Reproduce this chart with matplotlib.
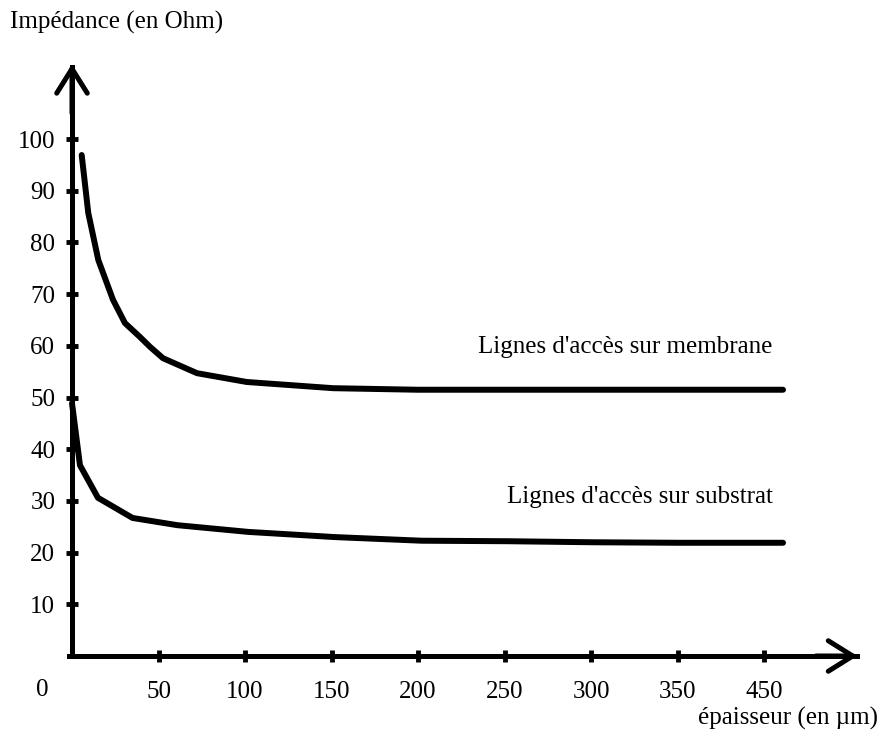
import matplotlib
matplotlib.use("Agg")
import matplotlib.pyplot as plt

plt.rcParams['font.family'] = ['Liberation Serif', 'DejaVu Serif']

# thickness (um) / impedance (Ohm)
x_membrane = [5.6, 9.4, 15.2, 23.7, 30.6, 39.3, 45.1, 52.6, 72.3, 101, 151, 200, 250, 300, 350, 411]
z_membrane = [96.9, 85.7, 76.6, 68.9, 64.4, 61.7, 59.8, 57.6, 54.7, 53.0, 51.8, 51.5, 51.5, 51.5, 51.5, 51.5]

x_substrat = [0, 4.6, 15, 35, 61, 102, 152, 202, 252, 301, 350, 411]
z_substrat = [48.9, 36.9, 30.6, 26.7, 25.3, 24.0, 23.0, 22.3, 22.2, 22.0, 21.9, 21.9]

xticks = [50, 100, 150, 200, 250, 300, 350, 400]
xtick_labels = ['50', '100', '150', '200', '250', '300', '350', '450']
yticks = [10, 20, 30, 40, 50, 60, 70, 80, 90, 100]

fig = plt.figure(figsize=(8.84, 7.44), dpi=100)
ax = fig.add_axes([0, 0, 1, 1])
# 1.73 px per um, 5.17 px per Ohm, origin at pixel (72, 656)
ax.set_xlim(-72 / 1.73, (884 - 72) / 1.73)
ax.set_ylim(-(744 - 656) / 5.17, 656 / 5.17)

ax.plot(x_membrane, z_membrane, color='black', lw=4.3, solid_capstyle='round')
ax.plot(x_substrat, z_substrat, color='black', lw=4.3, solid_capstyle='round')

# axes drawn as thick lines with open chevron heads
for s in ['top', 'right']:
    ax.spines[s].set_visible(False)
ax.spines['left'].set_position(('data', 0))
ax.spines['bottom'].set_position(('data', 0))
ax.spines['left'].set_bounds(0, 114.0)
ax.spines['bottom'].set_bounds(-2, 453.5)
ax.spines['left'].set_linewidth(3.6)
ax.spines['bottom'].set_linewidth(3.6)
head = '->,head_length=0.8,head_width=0.5'
ax.annotate('', xy=(0, 114.5), xytext=(0, 105),
            arrowprops=dict(arrowstyle=head, lw=3.6, color='black',
                            mutation_scale=22, shrinkA=0, shrinkB=0))
ax.annotate('', xy=(454, 0), xytext=(430, 0),
            arrowprops=dict(arrowstyle=head, lw=3.6, color='black',
                            mutation_scale=22, shrinkA=0, shrinkB=0))

ax.set_xticks(xticks)
ax.set_xticklabels(xtick_labels)
ax.set_yticks(yticks)
ax.tick_params(direction='inout', length=8, width=3.5, labelsize=18)
ax.tick_params(axis='x', pad=14)
ax.tick_params(axis='y', pad=8)

ax.text(-17.3, -6.6, '0', fontsize=18, ha='center', va='center')
ax.text(405, 59.8, "Lignes d'accès sur membrane", fontsize=18, ha='right', va='center')
ax.text(405, 30.8, "Lignes d'accès sur substrat", fontsize=18, ha='right', va='center')

fig.text(10 / 884, 1 - 22 / 744, 'Impédance (en Ohm)', fontsize=18, ha='left', va='center')
fig.text(878 / 884, 1 - 718 / 744, 'épaisseur (en µm)', fontsize=18, ha='right', va='center')

fig.savefig('out.png', dpi=100)
